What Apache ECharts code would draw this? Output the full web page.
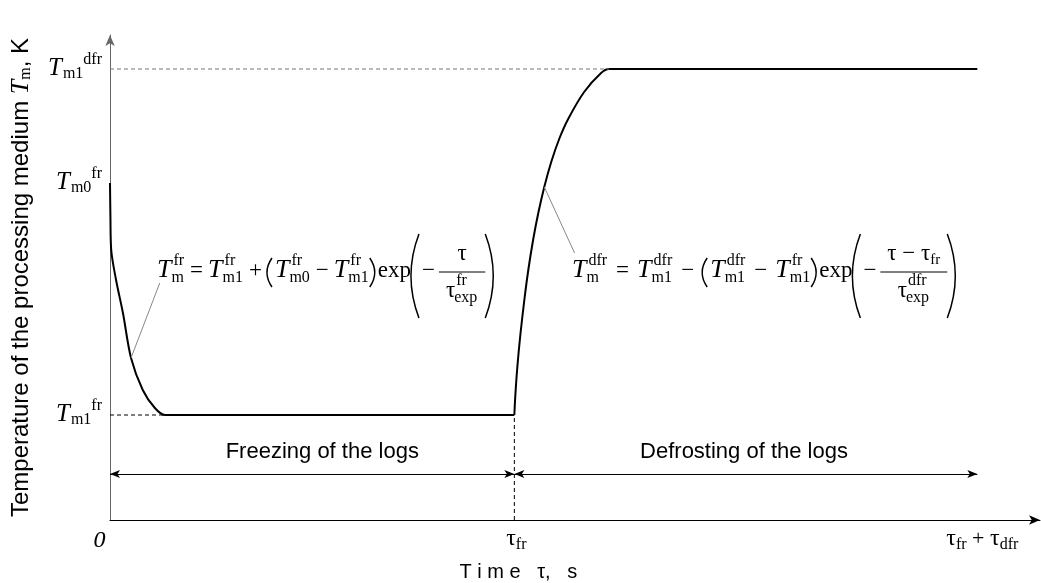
<!DOCTYPE html>
<html>
<head>
<meta charset="utf-8">
<title>Temperature of the processing medium</title>
<script src="https://cdn.jsdelivr.net/npm/echarts@6.0.0/dist/echarts.min.js"></script>
<style>
  html, body { margin: 0; padding: 0; background: #fff; }
  #chart { width: 1041px; height: 583px; }
</style>
</head>
<body>
<div id="chart"></div>
<script>
// time in units where tau_fr = 10, temperature in arbitrary units
const freezeTime = [0, 0.01, 0.03, 0.15, 0.32, 0.52, 0.81, 1.11, 1.36, 10];
const freezeTemp = [33.7, 30.5, 27.0, 24.0, 20.7, 16.2, 13.0, 11.2, 10.5, 10.5];
const defrostTime = [10, 10.025, 10.074, 10.148, 10.247, 10.345, 10.468, 10.592, 10.74, 10.912, 11.109, 11.331, 11.726, 12.145, 12.342, 21.45];
const defrostTemp = [10.5, 12.5, 15.3, 18.5, 22.0, 25.0, 28.1, 30.7, 33.3, 35.8, 38.1, 40.1, 42.8, 44.7, 45.1, 45.1];

const tauFr = 10;
const tauEnd = 21.45;
const tempM1Dfr = 45.1;
const tempM0Fr = 33.7;
const tempM1Fr = 10.5;
const arrowLevel = 4.6;
const phaseNames = ['Freezing of the logs', 'Defrosting of the logs'];
const phaseCenters = [5.25, 15.68];
const phaseLevel = 6.8;
// leader lines from the curves to the formulas
const leaderFreeze = [[0.52, 16.2], [1.23, 23.7]];
const leaderDefrost = [[10.74, 33.3], [11.49, 26.7]];

const zip = (xs, ys) => xs.map((x, i) => [x, ys[i]]);

const chart = echarts.init(document.getElementById('chart'));

const SANS = '"Liberation Sans", Arial, sans-serif';
const SERIF = '"Liberation Serif", "Times New Roman", serif';

chart.setOption({
  animation: false,
  backgroundColor: '#fff',
  grid: { left: 107, right: 1, top: 35, bottom: 63 },
  xAxis: {
    type: 'value', min: 0, max: 23,
    axisLine: { show: true, symbol: ['none', 'arrow'], symbolSize: [7, 11], lineStyle: { color: '#000', width: 1 } },
    axisTick: { show: false }, axisLabel: { show: false }, splitLine: { show: false }
  },
  yAxis: {
    type: 'value', min: 0, max: 48.5,
    axisLine: { show: true, symbol: ['none', 'arrow'], symbolSize: [7, 11], lineStyle: { color: '#666', width: 1 } },
    axisTick: { show: false }, axisLabel: { show: false }, splitLine: { show: false },
    name: '{a|Temperature of the processing medium }{t|T}{s|m}{a|, K}',
    nameLocation: 'middle', nameRotate: 90, nameGap: 76,
    nameTextStyle: {
      rich: {
        a: { fontFamily: SANS, fontSize: 24, color: '#000' },
        t: { fontFamily: SERIF, fontStyle: 'italic', fontSize: 26, color: '#000' },
        s: { fontFamily: SERIF, fontSize: 16, color: '#000', padding: [10, 0, 0, 0] }
      }
    }
  },
  series: [
    { type: 'line', data: zip(freezeTime, freezeTemp), smooth: 0.3, symbol: 'none', lineStyle: { color: '#000', width: 2 } },
    { type: 'line', data: zip(defrostTime, defrostTemp), smooth: 0.3, symbol: 'none', lineStyle: { color: '#000', width: 2 } },
    { type: 'line', data: [[0, tempM1Dfr], [defrostTime[defrostTime.length - 2], tempM1Dfr]], symbol: 'none', lineStyle: { color: '#777', width: 1, type: [4, 3] } },
    { type: 'line', data: [[0, tempM1Fr], [freezeTime[freezeTime.length - 2], tempM1Fr]], symbol: 'none', lineStyle: { color: '#000', width: 1, type: [4, 3] } },
    { type: 'line', data: [[tauFr, 0], [tauFr, tempM1Fr]], symbol: 'none', lineStyle: { color: '#000', width: 1, type: [4, 3] } },
    { type: 'line', data: leaderFreeze, symbol: 'none', lineStyle: { color: '#888', width: 1 } },
    { type: 'line', data: leaderDefrost, symbol: 'none', lineStyle: { color: '#888', width: 1 } },
    {
      type: 'line', data: [],
      markLine: {
        silent: true, symbol: ['arrow', 'arrow'], symbolSize: [6, 10],
        lineStyle: { color: '#000', width: 1, type: 'solid' }, label: { show: false },
        data: [
          [{ coord: [0, arrowLevel] }, { coord: [tauFr, arrowLevel] }],
          [{ coord: [tauFr, arrowLevel] }, { coord: [tauEnd, arrowLevel] }]
        ]
      }
    }
  ]
});

// small layout helper for the math labels
const measureCtx = document.createElement('canvas').getContext('2d');
function serif(sz, it) { return (it ? 'italic ' : '') + sz + 'px ' + SERIF; }
function textWidth(s, font) { measureCtx.font = font; return measureCtx.measureText(s).width; }
function glyph(s, x, base, font, sz) {
  return {
    type: 'text', x: x, y: base + 0.18 * sz, silent: true,
    style: { text: s, font: font, fill: '#000', textAlign: 'left', align: 'left', textVerticalAlign: 'bottom', verticalAlign: 'bottom' }
  };
}
const I = (s, sz = 26) => ({ k: 't', s, font: serif(sz, true), sz, dy: 0, after: 1 });
const R = (s, sz = 23, dy = 0) => ({ k: 't', s, font: serif(sz, false), sz, dy, after: 0 });
const S = (sup, sub, sz = 16) => ({ k: 's', sup, sub, sz });
const G = w => ({ k: 'g', w });
const P = (open, up, down, w) => ({ k: 'p', open, up, down, w });
const F = (num, den) => ({ k: 'f', num, den });

function layout(items, x0, base, out) {
  let x = x0;
  items.forEach(it => {
    if (it.k === 't') {
      out.push(glyph(it.s, x, base + it.dy, it.font, it.sz));
      x += textWidth(it.s, it.font) + it.after;
    } else if (it.k === 's') {
      const f = serif(it.sz, false);
      let w = 0;
      if (it.sup) { out.push(glyph(it.sup, x + 1, base - 12, f, it.sz)); w = Math.max(w, textWidth(it.sup, f) + 1); }
      if (it.sub) { out.push(glyph(it.sub, x - 1, base + 5, f, it.sz)); w = Math.max(w, textWidth(it.sub, f) - 1); }
      x += w + 1;
    } else if (it.k === 'g') {
      x += it.w;
    } else if (it.k === 'p') {
      const x1 = it.open ? x + it.w : x;
      const cx = it.open ? x - it.w : x + 2 * it.w;
      out.push({
        type: 'bezierCurve', silent: true,
        shape: { x1: x1, y1: base - it.up, x2: x1, y2: base + it.down, cpx1: cx, cpy1: base + (it.down - it.up) / 2 },
        style: { stroke: '#000', lineWidth: 1.5, fill: null }
      });
      x += it.w + 3;
    } else if (it.k === 'f') {
      const wn = layout(it.num, 0, 0, []);
      const wd = layout(it.den, 0, 0, []);
      const W = Math.max(wn, wd) + 14;
      const bar = base - 6;
      layout(it.num, x + (W - wn) / 2, bar - 11, out);
      layout(it.den, x + (W - wd) / 2, bar + 26, out);
      out.push({ type: 'line', silent: true, shape: { x1: x, y1: bar, x2: x + W, y2: bar }, style: { stroke: '#000', lineWidth: 1 } });
      x += W;
    }
  });
  return x - x0;
}
function placeRight(items, right, base, out) { layout(items, right - layout(items, 0, 0, []), base, out); }
function placeCenter(items, cx, base, out) { layout(items, cx - layout(items, 0, 0, []) / 2, base, out); }
const op = (s, pad) => [G(pad), R(s), G(pad)];

const px = p => chart.convertToPixel({ gridIndex: 0 }, p);
const g = [];

// y tick labels
const yTicks = [
  { v: tempM1Dfr, items: [I('T', 25), R('m1', 16, 3), R('dfr', 16, -11)] },
  { v: tempM0Fr, items: [I('T', 25), R('m0', 16, 3), R('fr', 16, -11)] },
  { v: tempM1Fr, items: [I('T', 25), R('m1', 16, 3), R('fr', 16, -11)] }
];
yTicks.forEach(t => placeRight(t.items, px([0, t.v])[0] - 8, px([0, t.v])[1] + 7, g));

// x tick labels
const x0 = px([0, 0]);
placeCenter([I('0', 24)], x0[0] - 10, x0[1] + 28, g);
placeCenter([R('τ', 24), R('fr', 16, 4)], px([tauFr, 0])[0] + 2, x0[1] + 26, g);
placeCenter([R('τ', 24), R('fr', 16, 4), R(' + ', 22), R('τ', 24), R('dfr', 16, 4)], px([tauEnd, 0])[0] + 5, x0[1] + 26, g);

// formulas
const f1 = [
  I('T'), S('fr', 'm'), ...op('=', 5), I('T'), S('fr', 'm1'), ...op('+', 5), P(true, 20, 9, 5), I('T'), S('fr', 'm0'),
  ...op('−', 5), I('T'), S('fr', 'm1'), P(false, 20, 9, 5), R('exp'), P(true, 44, 40, 8), R('−'), G(4),
  F([R('τ')], [R('τ'), S('fr', 'exp')]), P(false, 44, 40, 8)
];
const f2 = [
  I('T'), S('dfr', 'm'), ...op('=', 8), I('T'), S('dfr', 'm1'), ...op('−', 8), P(true, 20, 9, 5), I('T'), S('dfr', 'm1'),
  ...op('−', 8), I('T'), S('fr', 'm1'), P(false, 20, 9, 5), R('exp'), P(true, 44, 40, 8), R('−'), G(4),
  F([R('τ − τ'), R('fr', 15, 4)], [R('τ'), S('dfr', 'exp')]), P(false, 44, 40, 8)
];
layout(f1, 157, 278, g);
layout(f2, 572, 278, g);

// phase captions
phaseNames.forEach((name, i) => {
  const p = px([phaseCenters[i], phaseLevel]);
  g.push({ type: 'text', x: p[0], y: p[1], silent: true,
    style: { text: name, font: '22px ' + SANS, fill: '#000', textAlign: 'center', align: 'center', textVerticalAlign: 'middle', verticalAlign: 'middle' } });
});

// x axis name
g.push({ type: 'text', x: px([tauFr, 0])[0] + 4, y: 572, silent: true,
  style: { text: 'T i m e   τ,   s', font: '20px ' + SANS, fill: '#000', textAlign: 'center', align: 'center', textVerticalAlign: 'middle', verticalAlign: 'middle' } });

chart.setOption({ graphic: { elements: g } });
</script>
</body>
</html>
